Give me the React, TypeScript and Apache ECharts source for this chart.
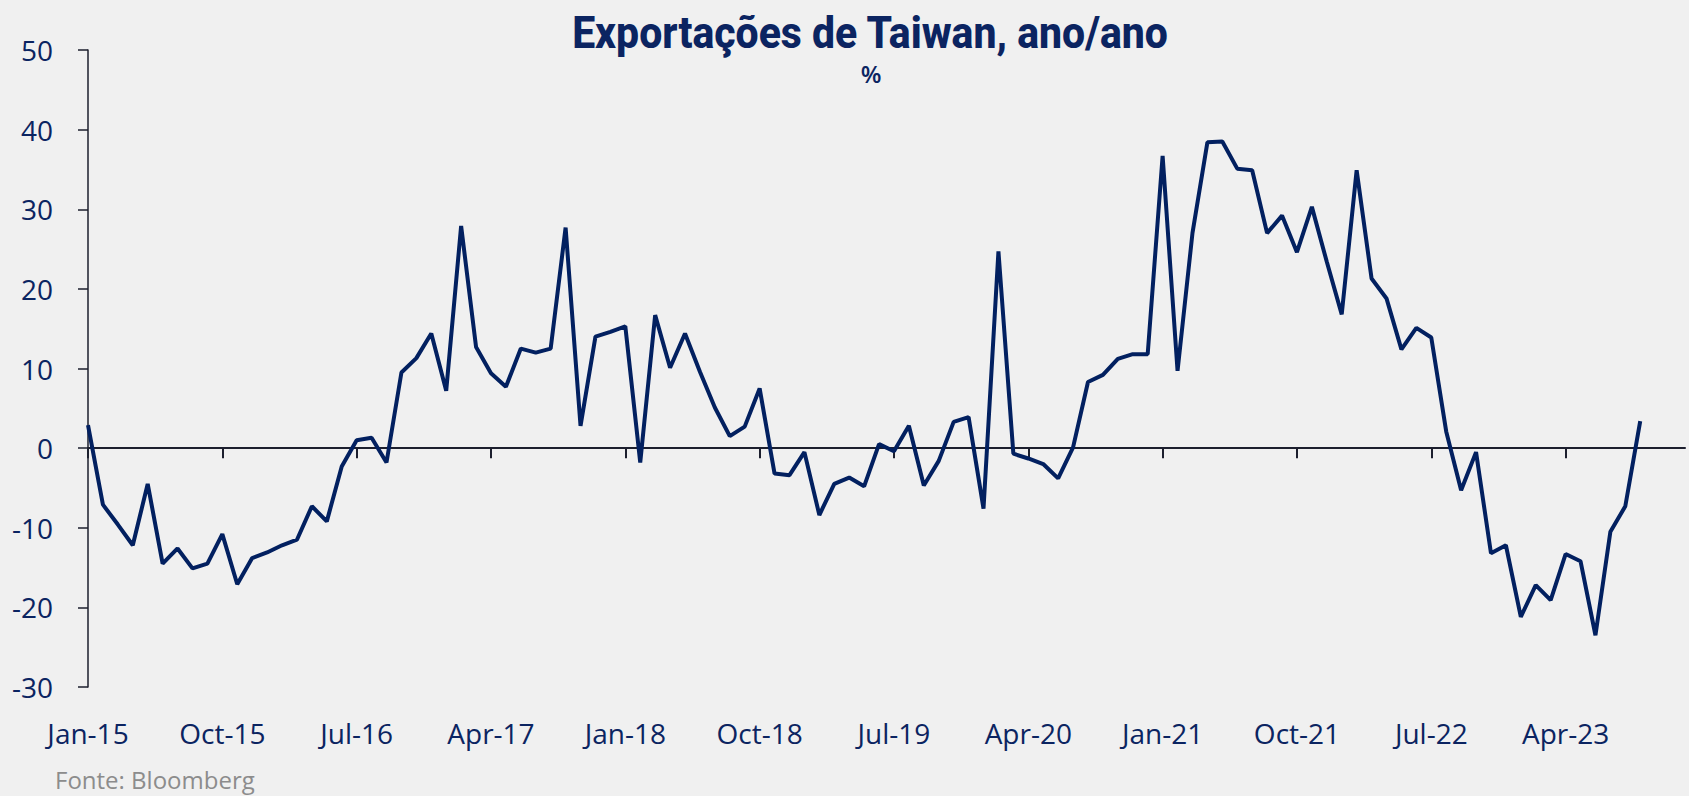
import React, { useEffect, useRef } from "react";
import * as echarts from "echarts";

const MONTHS = ["Jan", "Feb", "Mar", "Apr", "May", "Jun", "Jul", "Aug", "Sep", "Oct", "Nov", "Dec"];
const YEARS = ["15", "16", "17", "18", "19", "20", "21", "22", "23"];
const categories: string[] = [];
YEARS.forEach((y) => MONTHS.forEach((m) => categories.push(`${m}-${y}`)));

const exports2015 = [2.9, -7.1, -9.6, -12.2, -4.5, -14.5, -12.6, -15.1, -14.5, -10.8, -17.1, -13.8];
const exports2016 = [-13.1, -12.2, -11.5, -7.3, -9.2, -2.3, 1.0, 1.3, -1.8, 9.5, 11.3, 14.4];
const exports2017 = [7.2, 27.9, 12.7, 9.4, 7.7, 12.5, 12.0, 12.5, 27.7, 2.8, 14.0, 14.6];
const exports2018 = [15.3, -1.8, 16.7, 10.1, 14.4, 9.6, 5.1, 1.5, 2.7, 7.5, -3.2, -3.4];
const exports2019 = [-0.5, -8.4, -4.5, -3.7, -4.8, 0.5, -0.4, 2.8, -4.7, -1.6, 3.3, 3.9];
const exports2020 = [-7.6, 24.7, -0.7, -1.3, -2.0, -3.8, 0.1, 8.3, 9.2, 11.2, 11.8, 11.8];
const exports2021 = [36.7, 9.7, 27.0, 38.4, 38.5, 35.1, 34.9, 27.0, 29.2, 24.6, 30.3, 23.4];
const exports2022 = [16.8, 34.9, 21.3, 18.8, 12.4, 15.1, 13.9, 2.1, -5.3, -0.5, -13.2, -12.2];
const exports2023 = [-21.2, -17.2, -19.1, -13.3, -14.2, -23.5, -10.5, -7.3, 3.4, null, null, null];

const values = [
  ...exports2015, ...exports2016, ...exports2017, ...exports2018, ...exports2019,
  ...exports2020, ...exports2021, ...exports2022, ...exports2023,
];

const TITLE = "Exportações de Taiwan, ano/ano";
const SUBTITLE = "%";
const SOURCE = "Fonte: Bloomberg";

const NAVY = "#0b2461";
const LINE = "#022060";
const AXIS = "#1c1f2e";

export default function App() {
  const ref = useRef<HTMLDivElement>(null);
  useEffect(() => {
    if (!ref.current) return;
    const chart = echarts.init(ref.current, undefined, { renderer: "svg" });
    chart.setOption({
      animation: false,
      backgroundColor: "#f0f0f0",
      grid: { left: 88, right: 4, top: 50, bottom: 109, containLabel: false },
      graphic: [
        {
          type: "text",
          x: 870,
          y: 33,
          scaleX: 0.91,
          style: {
            text: TITLE,
            font: "800 45px Roboto",
            fill: NAVY,
            textAlign: "center",
            textVerticalAlign: "middle",
          },
        },
        {
          type: "text",
          x: 871,
          y: 73,
          style: {
            text: SUBTITLE,
            font: "600 24px 'Open Sans'",
            fill: NAVY,
            textAlign: "center",
            textVerticalAlign: "middle",
          },
        },
        {
          type: "text",
          x: 55,
          y: 779,
          style: {
            text: SOURCE,
            font: "400 24px 'Open Sans'",
            fill: "#8c8c8c",
            textAlign: "left",
            textVerticalAlign: "middle",
          },
        },
      ],
      xAxis: [
        {
          type: "category",
          data: categories,
          boundaryGap: false,
          axisLine: { onZero: true, lineStyle: { color: AXIS, width: 2 } },
          axisTick: { show: true, interval: 8, length: 10, inside: false, lineStyle: { color: AXIS, width: 2 } },
          axisLabel: { show: false },
          splitLine: { show: false },
        },
        {
          type: "category",
          data: categories,
          boundaryGap: false,
          position: "bottom",
          axisLine: { show: false, onZero: false },
          axisTick: { show: false },
          axisLabel: {
            show: true,
            interval: 8,
            margin: 32,
            color: NAVY,
            fontSize: 28,
            fontFamily: "Open Sans",
          },
          splitLine: { show: false },
        },
      ],
      yAxis: {
        type: "value",
        min: -30,
        max: 50,
        interval: 10,
        axisLine: { show: true, lineStyle: { color: AXIS, width: 1.5 } },
        axisTick: { show: true, length: 10, inside: false, lineStyle: { color: AXIS, width: 1.5 } },
        axisLabel: { margin: 35, color: NAVY, fontSize: 28, fontFamily: "Open Sans" },
        splitLine: { show: false },
      },
      series: [
        {
          type: "line",
          xAxisIndex: 0,
          data: values,
          showSymbol: false,
          symbol: "none",
          lineStyle: { color: LINE, width: 4 },
          connectNulls: false,
        },
      ],
    });
    return () => chart.dispose();
  }, []);
  return (
    <div
      ref={ref}
      style={{ position: "fixed", left: 0, top: 0, width: 1689, height: 796 }}
    />
  );
}
